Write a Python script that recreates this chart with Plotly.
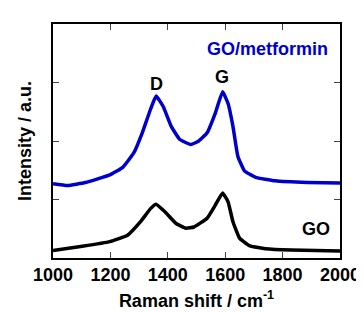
import plotly.graph_objects as go

shift_go_met = [1000, 1051, 1113, 1198, 1243, 1282, 1311, 1339, 1359, 1384, 1412, 1441, 1480, 1508, 1537, 1565, 1591, 1610, 1627, 1644, 1667, 1706, 1774, 1887, 2000]
int_go_met = [1.27, 1.24, 1.29, 1.42, 1.55, 1.80, 2.14, 2.53, 2.77, 2.59, 2.25, 2.03, 1.94, 2.00, 2.14, 2.47, 2.84, 2.64, 2.25, 1.74, 1.49, 1.38, 1.32, 1.29, 1.28]

shift_go = [1000, 1102, 1198, 1260, 1305, 1339, 1359, 1390, 1429, 1463, 1491, 1537, 1565, 1591, 1610, 1627, 1650, 1684, 1740, 1830, 2000]
int_go = [0.13, 0.20, 0.28, 0.39, 0.62, 0.84, 0.92, 0.79, 0.59, 0.51, 0.53, 0.68, 0.90, 1.11, 0.96, 0.62, 0.34, 0.21, 0.16, 0.135, 0.12]

x_ticks = [1000, 1200, 1400, 1600, 1800, 2000]
y_ticks = [0, 1, 2, 3, 4]

FONT = "Liberation Sans, Arial, sans-serif"
BLUE = "#0000cc"

fig = go.Figure()
fig.add_trace(go.Scatter(x=shift_go, y=int_go, mode="lines",
                         line=dict(color="black", width=3.5, shape="spline", smoothing=0.35)))
fig.add_trace(go.Scatter(x=shift_go_met, y=int_go_met, mode="lines",
                         line=dict(color=BLUE, width=3.5, shape="spline", smoothing=0.35)))

fig.add_annotation(x=1360, y=2.98, text="D", showarrow=False,
                   font=dict(family=FONT, size=18, color="black", weight="bold"))
fig.add_annotation(x=1590, y=3.09, text="G", showarrow=False,
                   font=dict(family=FONT, size=18, color="black", weight="bold"))
fig.add_annotation(x=1966, y=3.57, text="GO/metformin", showarrow=False, xanchor="right",
                   font=dict(family=FONT, size=18, color=BLUE, weight="bold"))
fig.add_annotation(x=1915, y=0.49, text="GO", showarrow=False,
                   font=dict(family=FONT, size=18, color="black", weight="bold"))

fig.update_layout(
    width=364, height=312,
    margin=dict(l=45, r=24, t=16, b=59),
    paper_bgcolor="white", plot_bgcolor="white",
    showlegend=False,
    font=dict(family=FONT, color="black"),
)
fig.update_xaxes(
    range=[1000, 2000], tickvals=x_ticks, ticktext=[str(v) for v in x_ticks],
    ticks="inside", ticklen=6, tickwidth=1, tickcolor="#444",
    showline=True, linecolor="black", linewidth=1.5, mirror="ticks",
    showgrid=False, zeroline=False,
    tickfont=dict(family=FONT, size=18, color="black", weight="bold"),
    title=dict(text="Raman shift / cm<sup>-1</sup>", standoff=10,
               font=dict(family=FONT, size=18, color="black", weight="bold")),
)
fig.update_yaxes(
    range=[0, 4], tickvals=y_ticks, showticklabels=False,
    ticks="inside", ticklen=6, tickwidth=1, tickcolor="#444",
    showline=True, linecolor="black", linewidth=1.5, mirror="ticks",
    showgrid=False, zeroline=False,
    title=dict(text="Intensity / a.u.", standoff=15,
               font=dict(family=FONT, size=18, color="black", weight="bold")),
)

fig.write_html("out.html")
